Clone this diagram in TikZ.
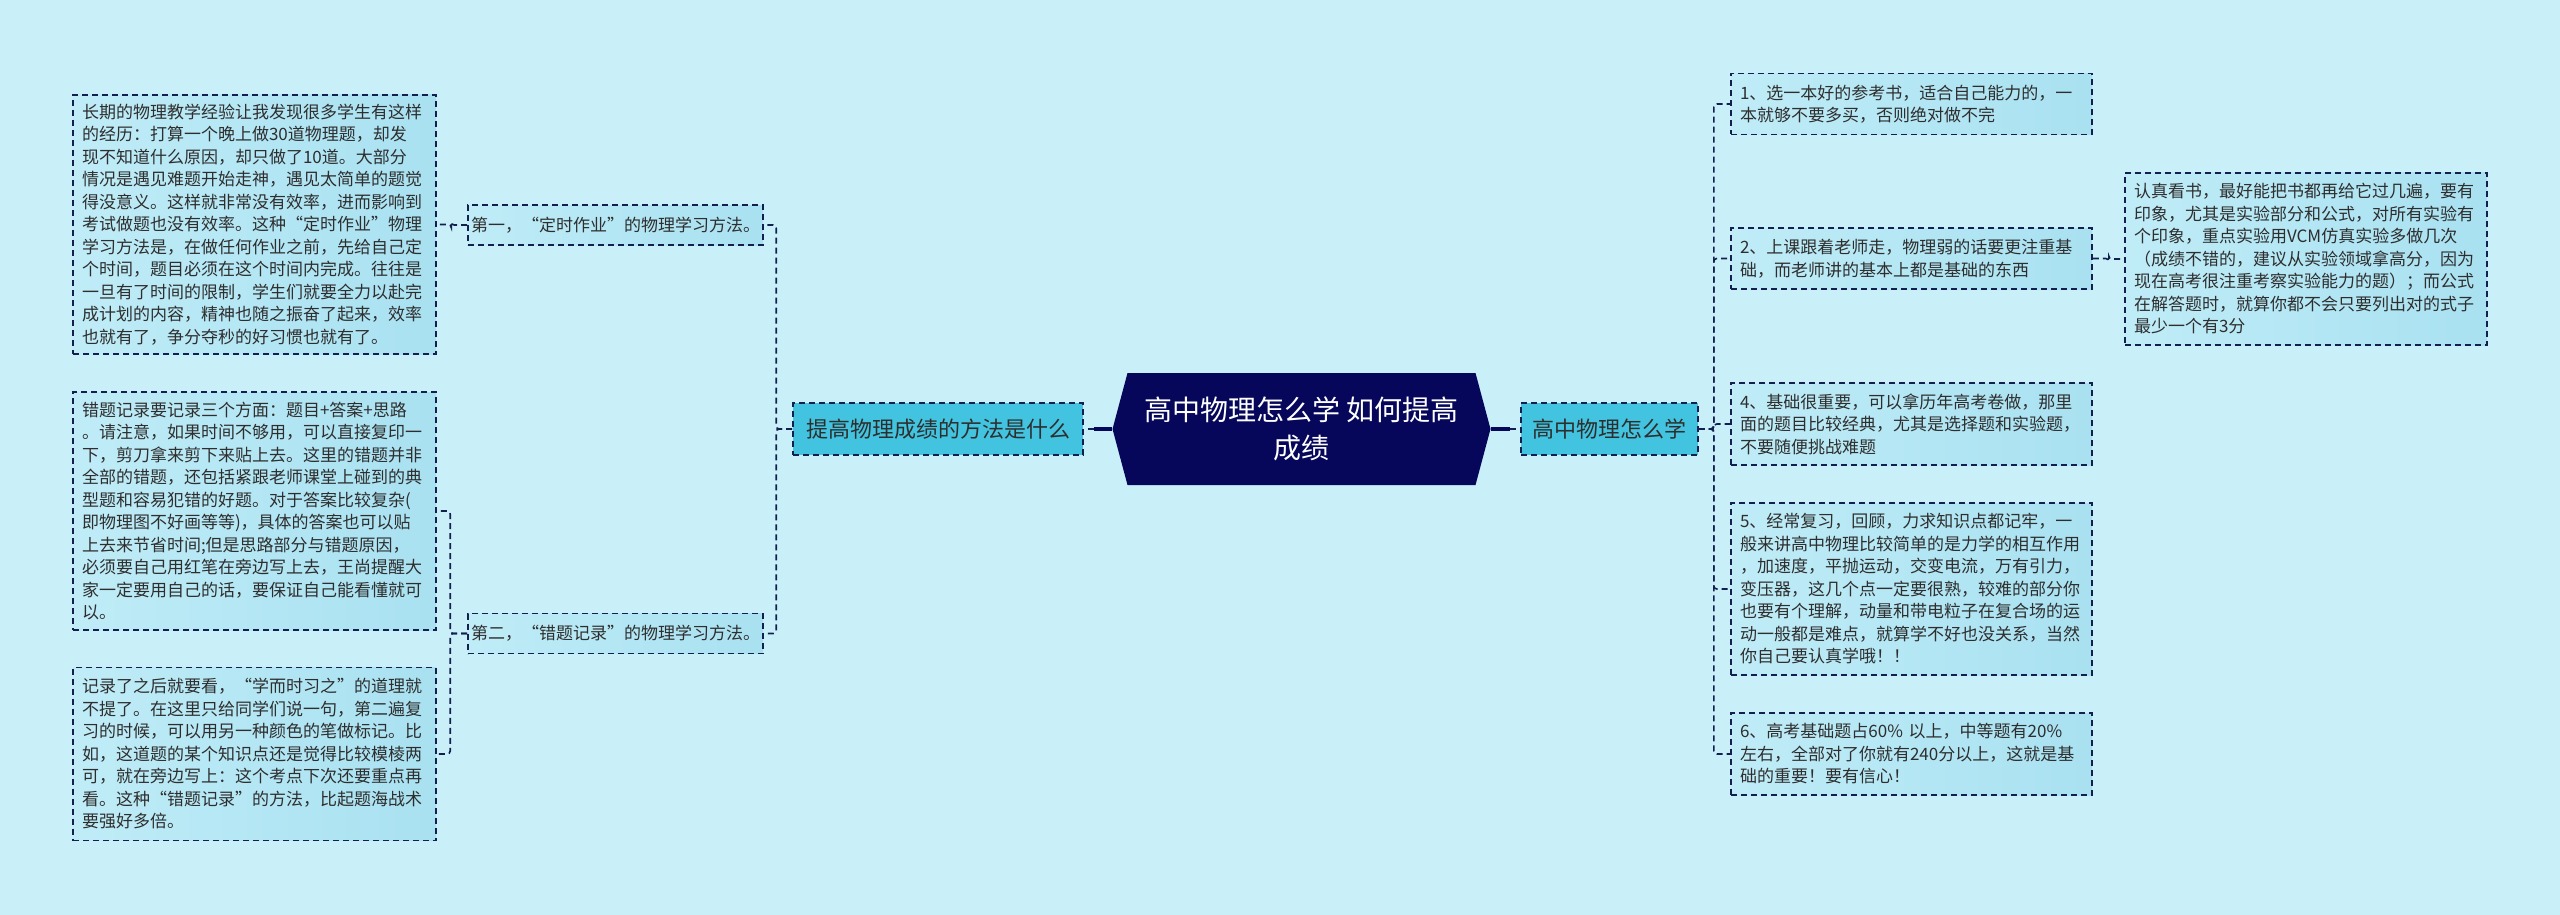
\documentclass[tikz,border=0pt]{standalone}
\usepackage{fontspec}
\setmainfont{Noto Sans CJK SC}
\usetikzlibrary{shapes.symbols,calc}
\definecolor{bg}{HTML}{C9F0F8}
\definecolor{boxA}{HTML}{BFECF7}
\definecolor{boxB}{HTML}{A9E1F1}
\definecolor{hl}{HTML}{42C4E0}
\definecolor{navy}{HTML}{06065A}
\definecolor{edge}{HTML}{13204F}
\definecolor{txt}{HTML}{2E2E2E}
\begin{document}
\begin{tikzpicture}[x=1pt,y=-1pt,
  conn/.style={draw=edge, line width=1.6pt, dash pattern=on 6pt off 4pt, rounded corners=3pt},
  leaf/.style={draw=edge, line width=1.6pt, dash pattern=on 6pt off 4pt, left color=boxA, right color=boxB,
    text=txt, font=\fontsize{17}{22.5}\selectfont, align=left, inner xsep=9pt, inner ysep=0pt, text width=#1},
  mid/.style={draw=edge, line width=1.6pt, dash pattern=on 6pt off 4pt, left color=boxA, right color=boxB,
    text=txt, font=\fontsize{17}{22}\selectfont, inner sep=0pt, minimum width=295pt, minimum height=40pt},
  hub/.style={draw=edge, line width=1.6pt, dash pattern=on 6pt off 4pt, fill=hl, text=txt,
    font=\fontsize{22}{26}\selectfont, inner sep=0pt, minimum height=52pt},
]
\useasboundingbox (0,0) rectangle (2560,915);
\fill[bg] (0,0) rectangle (2560,915);

% root
\node[signal, signal to=west and east, signal pointer angle=150, fill=navy, text=white,
  minimum width=378pt, minimum height=112pt, inner sep=0pt, align=center,
  font=\fontsize{28}{38}\selectfont] (root) at (1301.5,429) {高中物理怎么学 如何提高\\成绩};

% first level
\node[hub, minimum width=290pt] (tg) at (938,429) {提高物理成绩的方法是什么};
\node[hub, minimum width=177pt] (gz) at (1609.5,429) {高中物理怎么学};

% left second level
\node[mid] (d1) at (615.5,225) {第一，“定时作业”的物理学习方法。};
\node[mid] (d2) at (615.5,633.5) {第二，“错题记录”的物理学习方法。};

% left leaves
\node[leaf=345pt, minimum height=259pt] (L1) at (254.5,224.5) {长期的物理教学经验让我发现很多学生有这样\\
的经历：打算一个晚上做30道物理题，却发\\
现不知道什么原因，却只做了10道。大部分\\
情况是遇见难题开始走神，遇见太简单的题觉\\
得没意义。这样就非常没有效率，进而影响到\\
考试做题也没有效率。这种“定时作业”物理\\
学习方法是，在做任何作业之前，先给自己定\\
个时间，题目必须在这个时间内完成。往往是\\
一旦有了时间的限制，学生们就要全力以赴完\\
成计划的内容，精神也随之振奋了起来，效率\\
也就有了，争分夺秒的好习惯也就有了。};

\node[leaf=345pt, minimum height=238pt] (L2) at (254.5,511) {错题记录要记录三个方面：题目+答案+思路\\
。请注意，如果时间不够用，可以直接复印一\\
下，剪刀拿来剪下来贴上去。这里的错题并非\\
全部的错题，还包括紧跟老师课堂上碰到的典\\
型题和容易犯错的好题。对于答案比较复杂(\\
即物理图不好画等等)，具体的答案也可以贴\\
上去来节省时间;但是思路部分与错题原因，\\
必须要自己用红笔在旁边写上去，王尚提醒大\\
家一定要用自己的话，要保证自己能看懂就可\\
以。};

\node[leaf=345pt, minimum height=173pt] (L3) at (254.5,754) {记录了之后就要看，“学而时习之”的道理就\\
不提了。在这里只给同学们说一句，第二遍复\\
习的时候，可以用另一种颜色的笔做标记。比\\
如，这道题的某个知识点还是觉得比较模棱两\\
可，就在旁边写上：这个考点下次还要重点再\\
看。这种“错题记录”的方法，比起题海战术\\
要强好多倍。};

% right leaves
\node[leaf=343pt, minimum height=61pt] (R1) at (1911.5,104) {1、选一本好的参考书，适合自己能力的，一\\
本就够不要多买，否则绝对做不完};
\node[leaf=343pt, minimum height=61pt] (R2) at (1911.5,258.5) {2、上课跟着老师走，物理弱的话要更注重基\\
础，而老师讲的基本上都是基础的东西};
\node[leaf=343pt, minimum height=82pt] (R4) at (1911.5,424) {4、基础很重要，可以拿历年高考卷做，那里\\
面的题目比较经典，尤其是选择题和实验题，\\
不要随便挑战难题};
\node[leaf=343pt, minimum height=172pt] (R5) at (1911.5,589) {5、经常复习，回顾，力求知识点都记牢，一\\
般来讲高中物理比较简单的是力学的相互作用\\
，加速度，平抛运动，交变电流，万有引力，\\
变压器，这几个点一定要很熟，较难的部分你\\
也要有个理解，动量和带电粒子在复合场的运\\
动一般都是难点，就算学不好也没关系，当然\\
你自己要认真学哦！！};
\node[leaf=343pt, minimum height=82pt] (R6) at (1911.5,754) {6、高考基础题占60\% 以上，中等题有20\%\\
左右，全部对了你就有240分以上，这就是基\\
础的重要！要有信心！};
\node[leaf=344pt, minimum height=172pt] (R3) at (2306,259) {认真看书，最好能把书都再给它过几遍，要有\\
印象，尤其是实验部分和公式，对所有实验有\\
个印象，重点实验用VCM仿真实验多做几次\\
（成绩不错的，建议从实验领域拿高分，因为\\
现在高考很注重考察实验能力的题）；而公式\\
在解答题时，就算你都不会只要列出对的式子\\
最少一个有3分};

% connectors root
\draw[line width=3.5pt, navy] (root.west) -- ($(root.west)!0.65!(tg.east)$) coordinate (a1);
\draw[conn] (a1) -- (tg.east);
\draw[line width=3.5pt, navy] (root.east) -- ($(root.east)!0.65!(gz.west)$) coordinate (a2);
\draw[conn] (a2) -- (gz.west);

% left connectors
\draw[conn] (tg.west) -- ++(-16,0) |- (d1.east);
\draw[conn] (tg.west) -- ++(-16,0) |- (d2.east);
\draw[conn] (d1.west) -- ++(-16,0) |- (L1.east);
\draw[conn] (d2.west) -- ++(-17,0) |- (L2.east);
\draw[conn] (d2.west) -- ++(-17,0) |- (L3.east);

% right connectors
\foreach \r in {R1,R2,R4,R5,R6}{
  \draw[conn] (gz.east) -- ++(15,0) |- (\r.west);
}
\draw[conn] (R2.east) -- ++(16,0) |- (R3.west);
\end{tikzpicture}
\end{document}
